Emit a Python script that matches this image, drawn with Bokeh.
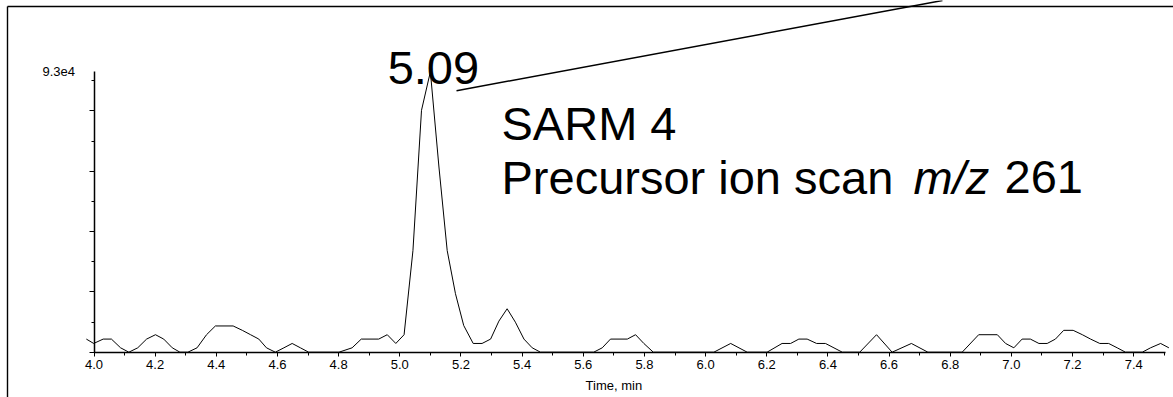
from bokeh.plotting import figure
from bokeh.models import (LinearAxis, SingleIntervalTicker, PrintfTickFormatter,
                          CustomJSTickFormatter, Range1d)
from bokeh.core.properties import value
from bokeh.embed import file_html
from bokeh.resources import INLINE

# ---------------- data ----------------
time_min = [3.975, 3.999, 4.030, 4.057, 4.087, 4.114, 4.143, 4.172, 4.201, 4.228,
            4.256, 4.281, 4.307, 4.337, 4.368, 4.397, 4.455, 4.485, 4.512, 4.539,
            4.564, 4.593, 4.621, 4.648, 4.675, 4.702, 4.801, 4.844, 4.874, 4.931,
            4.959, 4.987, 5.014, 5.043, 5.071, 5.100, 5.128, 5.155, 5.182, 5.209,
            5.240, 5.269, 5.297, 5.324, 5.351, 5.378, 5.406, 5.433, 5.460, 5.634,
            5.662, 5.689, 5.744, 5.771, 5.798, 5.829, 6.027, 6.082, 6.136, 6.201,
            6.250, 6.278, 6.305, 6.332, 6.363, 6.392, 6.447, 6.504, 6.559, 6.610,
            6.673, 6.727, 6.839, 6.893, 6.954, 6.981, 7.008, 7.035, 7.062, 7.090,
            7.117, 7.144, 7.171, 7.202, 7.232, 7.259, 7.289, 7.318, 7.346, 7.373,
            7.428, 7.455, 7.488, 7.515]
intensity = [4350, 2900, 4350, 4350, 1450, 0, 1450, 4350, 5800, 4350,
             1450, 0, 0, 1450, 5800, 8700, 8700, 7250, 5800, 4350,
             1450, 0, 1450, 2900, 1450, 0, 0, 1450, 4350, 4350,
             5800, 2900, 5800, 33700, 80200, 93000, 61400, 33700, 19400, 8850,
             2900, 2900, 4350, 10300, 14400, 9950, 4350, 1450, 0, 0,
             1450, 4350, 4350, 5800, 2900, 0, 0, 2900, 0, 0,
             2900, 2900, 4350, 4350, 2900, 2900, 0, 0, 5800, 0,
             2900, 0, 0, 5800, 5800, 2900, 1450, 4350, 4350, 2900,
             2900, 4350, 7250, 7250, 5800, 4350, 2900, 2900, 1450, 0,
             0, 1450, 2900, 1450]

peak_label = "5.09"
compound_label = "SARM 4"
scan_label = "Precursor ion scan"
mz_label = "m/z"
mz_value_label = "261"
x_title = "Time, min"
y_max = 93000
y_max_label = "9.3e4"
x_axis_first = 4.0
x_axis_last_label = 7.4

# ---------------- layout / calibration (page pixels) ----------------
W, H = 1173, 397
FONT = "Liberation Sans"
PX_PER_MIN = 305.8
PX_T0 = 93.5              # x of t = 4.0
PX_Y0 = 351.7             # y of zero intensity
PX_PER_UNIT = 280.5 / y_max

x_start = x_axis_first - PX_T0 / PX_PER_MIN
x_end = x_start + W / PX_PER_MIN
y_end = PX_Y0 / PX_PER_UNIT
y_start = -(H - PX_Y0) / PX_PER_UNIT


def t_at(cx):
    return x_start + cx / PX_PER_MIN


def v_at(cy):
    return y_end - cy / PX_PER_UNIT


p = figure(width=W, height=H, output_backend="svg", toolbar_location=None,
           x_axis_type=None, y_axis_type=None,
           x_range=Range1d(x_start, x_end), y_range=Range1d(y_start, y_end),
           min_border=0, min_border_left=0, min_border_right=0,
           min_border_top=0, min_border_bottom=0)
p.title.visible = False
p.outline_line_color = None
p.background_fill_color = "white"
p.border_fill_color = "white"

# ---------------- axes ----------------
xaxis = LinearAxis(fixed_location=0,
                   ticker=SingleIntervalTicker(interval=0.2, num_minor_ticks=2),
                   formatter=PrintfTickFormatter(format="%.1f"),
                   bounds=(x_axis_first, t_at(1165)))
xaxis.axis_line_color = "black"
xaxis.axis_line_width = 1.5
xaxis.major_tick_in = 0
xaxis.major_tick_out = 4
xaxis.minor_tick_in = 0
xaxis.minor_tick_out = 3
xaxis.major_tick_line_color = "black"
xaxis.minor_tick_line_color = "black"
xaxis.major_label_text_font = FONT
xaxis.major_label_text_font_size = "13px"
xaxis.major_label_text_color = "black"
xaxis.major_label_standoff = 4
p.add_layout(xaxis, "below")

yaxis = LinearAxis(fixed_location=x_axis_first,
                   ticker=SingleIntervalTicker(interval=20000, num_minor_ticks=2),
                   formatter=CustomJSTickFormatter(code="return '';"),
                   bounds=(0, y_max))
yaxis.axis_line_color = "black"
yaxis.axis_line_width = 1.5
yaxis.major_tick_in = 0
yaxis.major_tick_out = 5
yaxis.minor_tick_in = 0
yaxis.minor_tick_out = 3
yaxis.major_tick_line_color = "black"
yaxis.minor_tick_line_color = "black"
p.add_layout(yaxis, "left")

# ---------------- outer frame (top / left border) ----------------
p.segment(x0=[t_at(7)], y0=[v_at(6)], x1=[x_end], y1=[v_at(6)],
          line_color="black", line_width=1.4)
p.segment(x0=[t_at(7)], y0=[y_start], x1=[t_at(7)], y1=[v_at(6)],
          line_color="black", line_width=1.4)

# ---------------- trace ----------------
p.line(time_min, intensity, line_color="black", line_width=1)

# ---------------- texts ----------------
p.text(x=[x_axis_first], y=[y_max], text=[y_max_label], x_offset=-19,
       text_align="right", text_baseline="middle", text_color="black",
       text_font=value(FONT), text_font_size="13px")
p.text(x=[(x_axis_first + x_axis_last_label) / 2], y=[0], text=[x_title],
       y_offset=33.5, text_align="center", text_baseline="middle",
       text_color="black", text_font=value(FONT), text_font_size="13px")

i_peak = intensity.index(max(intensity))
p.text(x=[time_min[i_peak]], y=[intensity[i_peak]], text=[peak_label],
       x_offset=3, y_offset=-3.5, text_align="center", text_baseline="alphabetic",
       text_color="black", text_font=value(FONT), text_font_size="47px")

BIG = dict(text_baseline="alphabetic", text_align="left", text_color="black",
           text_font=value(FONT), text_font_size="47px")
p.text(x=[t_at(501)], y=[v_at(122.7)], text=[compound_label], **BIG)
p.text(x=[t_at(501)], y=[v_at(176.7)], text=[scan_label], **BIG)
p.text(x=[t_at(913)], y=[v_at(176.7)], text=[mz_label],
       text_font_style="italic", **BIG)
p.text(x=[t_at(1004)], y=[v_at(176.7)], text=[mz_value_label], **BIG)

# pointer line from the peak label towards the top
p.segment(x0=[t_at(456)], y0=[v_at(90.3)], x1=[t_at(942)], y1=[v_at(0)],
          line_color="black", line_width=1.5)

open("out.html", "w").write(file_html(p, INLINE))
